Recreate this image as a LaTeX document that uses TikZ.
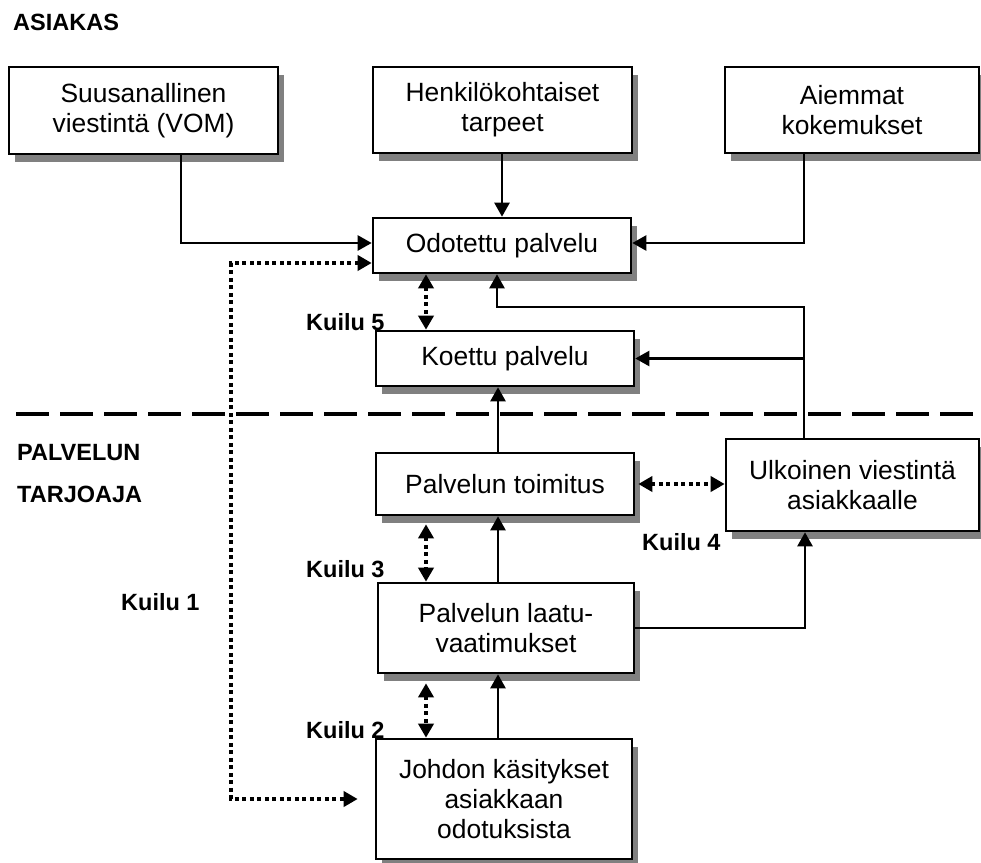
\documentclass[tikz,border=0pt]{standalone}
\usepackage{fontspec}
\setmainfont{Liberation Sans}
\usetikzlibrary{arrows.meta,shadows}
\begin{document}
\begin{tikzpicture}[x=1pt,y=-1pt,
  box/.style={draw=black, line width=2.6pt, fill=white, inner sep=0pt, align=center,
    font=\fontsize{26.4}{30}\selectfont,
    general shadow={fill=black!50, shadow xshift=6pt, shadow yshift=-8pt}},
  lbl/.style={font=\bfseries\fontsize{23.5}{28}\selectfont, inner sep=0pt, anchor=west},
  conn/.style={line width=2.4pt, -{Triangle[length=14pt,width=15pt]}},
  gap/.style={line width=4pt, dash pattern=on 4pt off 3.5pt,
    {Triangle[length=14pt,width=15pt]}-{Triangle[length=14pt,width=15pt]}},
  sep/.style={line width=4.5pt, dash pattern=on 33pt off 11pt}
]
\useasboundingbox (0,0) rectangle (981,862);

% customer side
\node[lbl] (asiakas) at (13,22) {ASIAKAS};
\node[box, minimum width=269pt, minimum height=87pt] (vom) at (143.5,110.5) {Suusanallinen\\viestintä (VOM)};
\node[box, minimum width=259pt, minimum height=86pt] (henk) at (502.5,110) {Henkilökohtaiset\\tarpeet};
\node[box, minimum width=254pt, minimum height=86pt] (aiem) at (852,110) {Aiemmat\\kokemukset};
\node[box, minimum width=258pt, minimum height=55pt] (odot) at (502,245.5) {Odotettu palvelu};
\node[box, minimum width=258pt, minimum height=55pt] (koet) at (505,358.5) {Koettu palvelu};

% boundary between customer and provider
\draw[sep] (16,414) -- (975,414);

% provider side
\node[lbl] (palv) at (17,453) {PALVELUN};
\node[lbl] (tarj) at (17,494) {TARJOAJA};
\node[box, minimum width=258pt, minimum height=62pt] (toim) at (505,484) {Palvelun toimitus};
\node[box, minimum width=253pt, minimum height=92pt] (ulko) at (852.5,485) {Ulkoinen viestintä\\asiakkaalle};
\node[box, minimum width=256pt, minimum height=90pt] (laat) at (506,628) {Palvelun laatu-\\vaatimukset};
\node[box, minimum width=256pt, minimum height=120pt] (johd) at (504,799) {Johdon käsitykset\\asiakkaan\\odotuksista};

% gap labels
\node[lbl] (k1lbl) at (121,602) {Kuilu 1};
\node[lbl] (k2lbl) at (306,730) {Kuilu 2};
\node[lbl] (k3lbl) at (306,569) {Kuilu 3};
\node[lbl] (k4lbl) at (642,542) {Kuilu 4};
\node[lbl] (k5lbl) at (306,322) {Kuilu 5};

% routing columns
\coordinate (vx) at (181,0);
\coordinate (rx) at (804,0);
\coordinate (ux) at (805,0);
\coordinate (mx) at (498,0);
\coordinate (gx) at (426,0);
\coordinate (fb) at (497,307);
\coordinate (k1) at (231,799);

% solid connectors
\draw[conn] (vom.south -| vx) |- ([yshift=2.5pt]odot.west);
\draw[conn] (henk.south -| odot.north) -- (odot.north);
\draw[conn] (aiem.south -| rx) |- ([yshift=2.5pt]odot.east);
\draw[conn] (ulko.north -| rx) |- (fb) -- (fb |- odot.south);
\draw[conn] (koet.east -| rx) -- (koet.east);
\draw[conn] (toim.north -| mx) -- (koet.south -| mx);
\draw[conn] (laat.north -| mx) -- (toim.south -| mx);
\draw[conn] (johd.north -| mx) -- (laat.south -| mx);
\draw[conn] (laat.east) -| (ulko.south -| ux);

% dotted gap arrows
\draw[gap] (odot.south -| gx) -- (koet.north -| gx);
\draw[gap, shorten <=8pt] (toim.south -| gx) -- (laat.north -| gx);
\draw[gap, shorten <=9pt] (laat.south -| gx) -- (johd.north -| gx);
\draw[gap] ([xshift=3pt]toim.east) -- (ulko.west |- toim.east);
\draw[gap, shorten >=17pt] ([yshift=-17.5pt]odot.west) -| (k1) -- (johd.west |- k1);
\end{tikzpicture}
\end{document}
